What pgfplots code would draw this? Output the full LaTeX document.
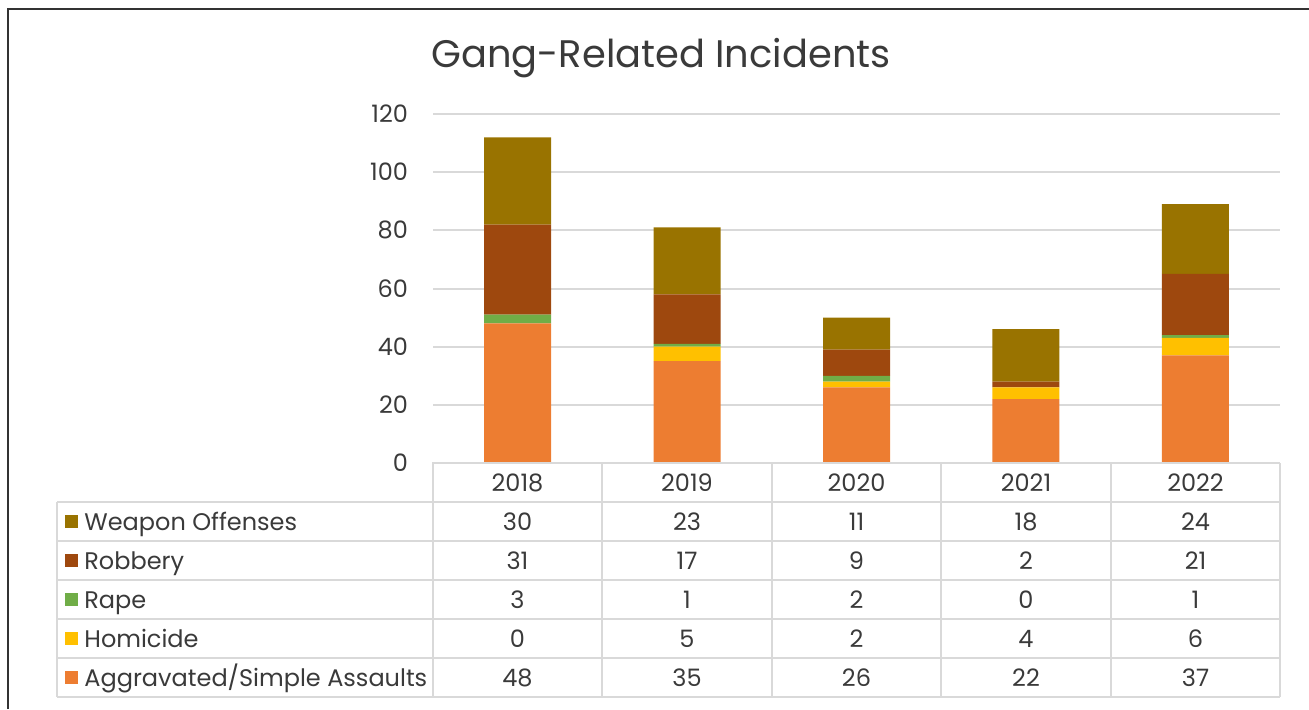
\documentclass[border=0pt]{standalone}
\usepackage{pgfplots}
\usepackage{pgfplotstable}
\pgfplotsset{compat=1.18}
\usepackage{fontspec}
\setmainfont{Poppins}

\definecolor{cWeapon}{HTML}{997300}
\definecolor{cRobbery}{HTML}{9E480E}
\definecolor{cRape}{HTML}{70AD47}
\definecolor{cHomicide}{HTML}{FFC000}
\definecolor{cAssault}{HTML}{ED7D31}
\definecolor{cGrid}{HTML}{D9D9D9}
\definecolor{cText}{HTML}{3A3A3A}

\pgfplotstableread{
year assault homicide rape robbery weapon
2018 48 0 3 31 30
2019 35 5 1 17 23
2020 26 2 2 9 11
2021 22 4 0 2 18
2022 37 6 1 21 24
}\data

\begin{document}
\begin{tikzpicture}[font=\fontsize{12}{14}\selectfont,text=cText]
\useasboundingbox (0,0) rectangle (654.5pt,354.5pt);

\begin{axis}[
  at={(216.5pt,123pt)}, anchor=south west,
  scale only axis, width=423.5pt, height=174.5pt,
  ybar stacked, bar width=33.5pt,
  xmin=-0.5, xmax=4.5, ymin=0, ymax=120,
  ytick={0,20,...,120},
  xtick=\empty,
  axis line style={draw=none},
  major tick length=0pt,
  ymajorgrids, grid style={cGrid,line width=1pt},
  yticklabel style={xshift=-9pt,text=cText,font=\fontsize{12}{14}\selectfont},
  /pgf/number format/assume math mode=true,
  clip=false,
]
\addplot[fill=cAssault,draw=none] table[x expr=\coordindex,y=assault]{\data};
\addplot[fill=cHomicide,draw=none] table[x expr=\coordindex,y=homicide]{\data};
\addplot[fill=cRape,draw=none] table[x expr=\coordindex,y=rape]{\data};
\addplot[fill=cRobbery,draw=none] table[x expr=\coordindex,y=robbery]{\data};
\addplot[fill=cWeapon,draw=none] table[x expr=\coordindex,y=weapon]{\data};
\end{axis}

% everything below in pixel units of the reference, y downwards
\begin{scope}[x=0.5pt,y=-0.5pt,shift={(0,-709)}]
% chart frame (only top and left visible)
\draw[black!80,line width=0.8pt] (8,709) -- (8,9) -- (1309,9);
\node at (661,58) {\fontsize{19.2}{24}\selectfont Gang-Related Incidents};

% data table grid
\begin{scope}[cGrid,line width=1pt]
\draw (432,463) -- (1280,463);
\foreach \yy in {502,541,580,619,658,697} \draw (57,\yy) -- (1280,\yy);
\draw (57,502) -- (57,697);
\foreach \k in {0,...,5} \draw ({432.5+169.5*\k},463) -- ({432.5+169.5*\k},697);
\end{scope}

% year header
\foreach \k in {0,...,4} {
  \pgfplotstablegetelem{\k}{year}\of\data
  \node at ({517.5+169.5*\k},483) {\pgfplotsretval};
}
% rows: legend keys, names and values
\foreach \col/\name/\clr [count=\r from 0] in {weapon/Weapon Offenses/cWeapon,robbery/Robbery/cRobbery,rape/Rape/cRape,homicide/Homicide/cHomicide,assault/Aggravated\slash Simple Assaults/cAssault} {
  \pgfmathsetmacro\ym{521.5+39*\r}
  \fill[\clr] (65,\ym-6.5) rectangle (78,\ym+6.5);
  \node[anchor=mid west,inner sep=0pt] at (84,\ym+4) {\name};
  \foreach \k in {0,...,4} {
    \pgfplotstablegetelem{\k}{\col}\of\data
    \node at ({517.5+169.5*\k},\ym) {\pgfplotsretval};
  }
}
\end{scope}
\end{tikzpicture}
\end{document}
